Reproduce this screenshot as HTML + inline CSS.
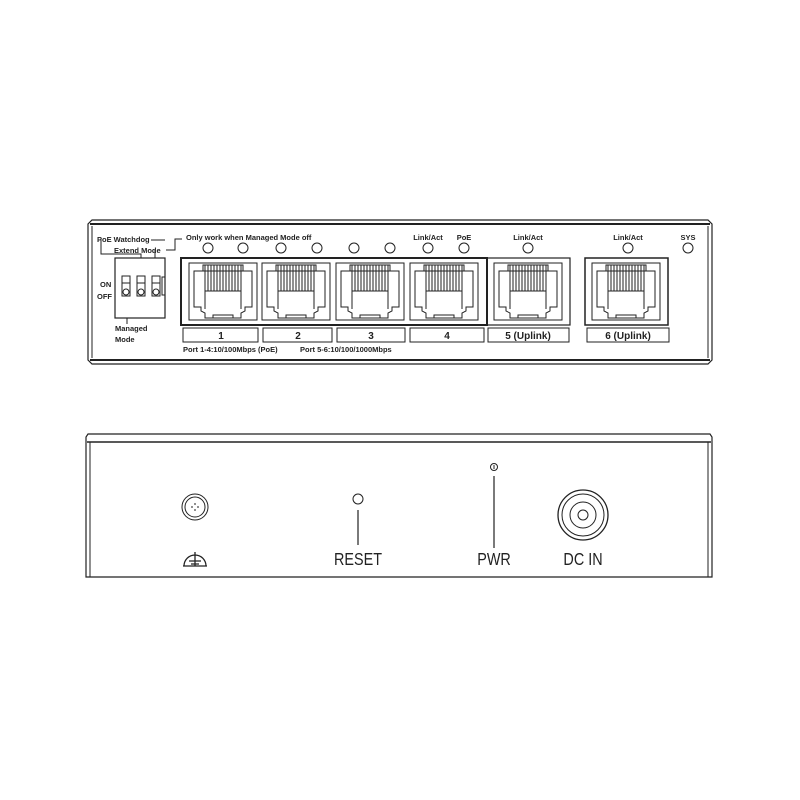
<!DOCTYPE html>
<html><head><meta charset="utf-8"><style>
html,body{margin:0;padding:0;background:#fff;}
svg{display:block}
text{font-family:"Liberation Sans",sans-serif;fill:#222}
.b{font-weight:bold}
</style></head><body>
<svg width="800" height="800" viewBox="0 0 800 800" xmlns="http://www.w3.org/2000/svg">
<defs>
<g id="jack" fill="none" stroke="#222" stroke-width="1">
<rect x="0" y="0" width="68" height="57"/>
<path d="M5,8 H14 V2 H54 V8 H63 V44 H56 V48 L52,50 V55 H16 V50 L12,48 V44 H5 Z"/>
<path d="M16,2 V28 M19,2 V28 M22,2 V28 M25,2 V28 M28,2 V28 M31,2 V28 M34,2 V28 M37,2 V28 M40,2 V28 M43,2 V28 M46,2 V28 M49,2 V28 M52,2 V28"/>
<path d="M14,8 H54 M16,28 H52 M16,28 V46 M52,28 V46 M24,55 V52 H44 V55"/>
</g>
</defs>
<g fill="none" stroke="#222">
<path d="M92,220 H708 L712,224 V360 L708,364 H92 L88,360 V224 Z" stroke-width="1.2"/>
<path d="M90,224 H710 M90,360 H710" stroke-width="2"/>
<path d="M92,226 V358 M708,226 V358" stroke-width="1"/>
<g stroke-width="1">
<circle cx="208" cy="248" r="5"/><circle cx="243" cy="248" r="5"/><circle cx="281" cy="248" r="5"/><circle cx="317" cy="248" r="5"/><circle cx="354" cy="248" r="5"/><circle cx="390" cy="248" r="5"/><circle cx="428" cy="248" r="5"/><circle cx="464" cy="248" r="5"/><circle cx="528" cy="248" r="5"/><circle cx="628" cy="248" r="5"/><circle cx="688" cy="248" r="5"/>
</g>
<path d="M101,240 V254 H141 V258 M155,258 V250 M166,250 H175 V239 H182 M151,240 H165" stroke-width="1"/>
<rect x="115" y="258" width="50" height="60" stroke-width="1.2"/>
<rect x="122" y="276" width="8" height="20"/><circle cx="126" cy="292" r="3"/><path d="M122,283 H130"/>
<rect x="137" y="276" width="8" height="20"/><circle cx="141" cy="292" r="3"/><path d="M137,283 H145"/>
<rect x="152" y="276" width="8" height="20"/><circle cx="156" cy="292" r="3"/><path d="M152,283 H160"/>
<rect x="162" y="277" width="3" height="18"/>
<path d="M127,318 V324"/>
<rect x="181" y="258" width="306" height="67" stroke-width="2"/>
<rect x="487" y="258" width="83" height="67" stroke-width="1.2"/>
<rect x="585" y="258" width="83" height="67" stroke-width="1.5"/>
<use href="#jack" x="189" y="263"/>
<use href="#jack" x="262" y="263"/>
<use href="#jack" x="336" y="263"/>
<use href="#jack" x="410" y="263"/>
<use href="#jack" x="494" y="263"/>
<use href="#jack" x="592" y="263"/>
<rect x="183" y="328" width="75" height="14"/><rect x="263" y="328" width="69" height="14"/><rect x="337" y="328" width="68" height="14"/><rect x="410" y="328" width="74" height="14"/><rect x="488" y="328" width="81" height="14"/><rect x="587" y="328" width="82" height="14"/>
<path d="M88,434 H710 L712,437 V577 H86 V437 Z" stroke-width="1.2"/>
<path d="M87,442 H711" stroke-width="1.5"/>
<path d="M90,442 V577 M708,442 V577" stroke-width="1"/>
<circle cx="195" cy="507" r="13"/><circle cx="195" cy="507" r="10"/>
<path d="M195,503 v2 M195,509 v2 M191,507 h2 M197,507 h2" stroke-width="1"/>
<path d="M184,566 A11,11 0 0 1 206,566 M183,566 H207 M195,552 V566 M189,561 H201 M191,564 h8" stroke-width="1.3"/>
<circle cx="358" cy="499" r="5"/><path d="M358,510 V545" stroke-width="1.2"/>
<circle cx="494" cy="467" r="3.5"/><path d="M494,465 v4"/><path d="M494,476 V548" stroke-width="1.2"/>
<circle cx="583" cy="515" r="25" stroke-width="1.3"/><circle cx="583" cy="515" r="21"/><circle cx="583" cy="515" r="13"/><circle cx="583" cy="515" r="5"/>
</g>
<g class="b" font-size="7.5">
<text x="97" y="242">PoE Watchdog</text>
<text x="114" y="253">Extend Mode</text>
<text x="186" y="240">Only work when Managed Mode off</text>
<text x="428" y="240" text-anchor="middle">Link/Act</text>
<text x="464" y="240" text-anchor="middle">PoE</text>
<text x="528" y="240" text-anchor="middle">Link/Act</text>
<text x="628" y="240" text-anchor="middle">Link/Act</text>
<text x="688" y="240" text-anchor="middle">SYS</text>
<text x="100" y="287">ON</text>
<text x="97" y="299">OFF</text>
<text x="115" y="331">Managed</text>
<text x="115" y="342">Mode</text>
<text x="183" y="352">Port 1-4:10/100Mbps (PoE)</text>
<text x="300" y="352">Port 5-6:10/100/1000Mbps</text>
</g>
<g class="b" font-size="10">
<text x="221" y="339" text-anchor="middle">1</text>
<text x="298" y="339" text-anchor="middle">2</text>
<text x="371" y="339" text-anchor="middle">3</text>
<text x="447" y="339" text-anchor="middle">4</text>
<text x="528" y="339" text-anchor="middle">5 (Uplink)</text>
<text x="628" y="339" text-anchor="middle">6 (Uplink)</text>
</g>
<g font-size="18">
<text transform="translate(358,565) scale(0.8,1)" text-anchor="middle">RESET</text>
<text transform="translate(494,565) scale(0.8,1)" text-anchor="middle">PWR</text>
<text transform="translate(583,565) scale(0.8,1)" text-anchor="middle">DC IN</text>
</g>
</svg>
</body></html>
